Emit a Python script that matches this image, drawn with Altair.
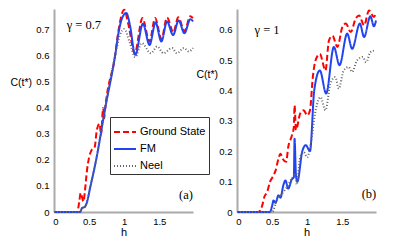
import altair as alt
import pandas as pd

SERIES = ["Ground State", "FM", "Neel"]
COLORS = ["#ff0000", "#2244f0", "#666666"]
DASHES = [[6, 3], [1, 0], [1, 2]]
WIDTHS = [2, 2, 1]

X_TICKS = [0.02, 0.5, 1, 1.5]
Y_TICKS_A = [0, 0.1, 0.2, 0.3, 0.4, 0.5, 0.6, 0.7]
Y_TICKS_B = [0, 0.1, 0.2, 0.3, 0.4, 0.5, 0.6]

# ---------------- panel (a): gamma = 0.7 ----------------
a_gs_h = [0, 0.33, 0.36, 0.38, 0.42, 0.44, 0.47, 0.50, 0.53, 0.58, 0.61, 0.65, 0.67, 0.70, 0.715, 0.73,
          0.87, 0.92, 1.0, 1.06, 1.15, 1.26, 1.36, 1.44, 1.53, 1.61, 1.70, 1.77, 1.86, 1.94, 1.98]
a_gs_c = [0, 0, 0.04, 0.073, 0.04, 0.08, 0.16, 0.21, 0.235, 0.25, 0.315, 0.34, 0.296, 0.40, 0.36, 0.40,
          0.6, 0.70, 0.777, 0.72, 0.61, 0.745, 0.655, 0.745, 0.665, 0.747, 0.69, 0.748, 0.695, 0.752, 0.745]

a_fm_h = [0, 0.37, 0.40, 0.44, 0.46, 0.52, 0.60, 0.73, 0.87, 0.92, 0.97, 1.03, 1.08, 1.157, 1.267,
          1.361, 1.447, 1.529, 1.61, 1.696, 1.776, 1.857, 1.943, 1.98]
a_fm_c = [0, 0, 0.015, 0.02, 0.03, 0.1, 0.2, 0.4, 0.6, 0.69, 0.745, 0.765, 0.72, 0.604, 0.723,
          0.642, 0.728, 0.655, 0.732, 0.68, 0.736, 0.687, 0.741, 0.732]

a_ne_h = [0, 0.37, 0.40, 0.44, 0.46, 0.52, 0.60, 0.73, 0.87, 0.94, 1.0, 1.08, 1.157, 1.25, 1.38,
          1.47, 1.56, 1.68, 1.75, 1.85, 1.92, 1.98]
a_ne_c = [0, 0, 0.015, 0.02, 0.03, 0.1, 0.2, 0.4, 0.6, 0.68, 0.703, 0.65, 0.595, 0.649, 0.61,
          0.636, 0.61, 0.63, 0.61, 0.63, 0.617, 0.63]

# ---------------- panel (b): gamma = 1 ----------------
b_gs_h = [0, 0.30, 0.36, 0.39, 0.43, 0.47, 0.52, 0.55, 0.59, 0.62, 0.65, 0.70, 0.73, 0.78, 0.81, 0.82,
          0.84, 0.90, 0.95, 1.0, 1.04, 1.08, 1.12, 1.18, 1.26, 1.31, 1.36, 1.43, 1.50, 1.55, 1.62,
          1.69, 1.74, 1.81, 1.88, 1.95, 1.98]
b_gs_c = [0, 0, 0.022, 0.05, 0.066, 0.099, 0.12, 0.137, 0.175, 0.192, 0.175, 0.165, 0.214, 0.25, 0.28, 0.351,
          0.27, 0.324, 0.335, 0.318, 0.335, 0.444, 0.5, 0.52, 0.466, 0.565, 0.58, 0.543, 0.608, 0.62, 0.592,
          0.636, 0.647, 0.614, 0.663, 0.642, 0.655]

b_fm_h = [0, 0.47, 0.50, 0.52, 0.55, 0.59, 0.62, 0.66, 0.69, 0.73, 0.78, 0.81, 0.82, 0.84, 0.86,
          0.93, 0.98, 1.04, 1.10, 1.18, 1.27, 1.38, 1.46, 1.57, 1.64, 1.75, 1.81, 1.90, 1.95, 1.98]
b_fm_c = [0, 0, 0.02, 0.038, 0.03, 0.055, 0.047, 0.088, 0.104, 0.077, 0.107, 0.115, 0.241, 0.12, 0.1,
          0.2, 0.22, 0.2, 0.40, 0.466, 0.39, 0.543, 0.483, 0.587, 0.537, 0.62, 0.576, 0.644, 0.611, 0.63]

b_ne_h = [0, 0.50, 0.57, 0.64, 0.71, 0.78, 0.83, 0.85, 0.90, 0.95, 1.0, 1.05, 1.12, 1.19, 1.26,
          1.33, 1.40, 1.45, 1.52, 1.59, 1.64, 1.71, 1.79, 1.84, 1.90, 1.97]
b_ne_c = [0, 0, 0.04, 0.06, 0.082, 0.11, 0.126, 0.09, 0.18, 0.197, 0.18, 0.225, 0.335, 0.378, 0.335,
          0.422, 0.444, 0.406, 0.466, 0.477, 0.461, 0.499, 0.51, 0.493, 0.526, 0.532]


def frame(pairs):
    rows = []
    for name, (hs, cs) in zip(SERIES, pairs):
        for h, c in zip(hs, cs):
            rows.append({"series": name, "h": h, "C": c})
    return pd.DataFrame(rows)


df_a = frame([(a_gs_h, a_gs_c), (a_fm_h, a_fm_c), (a_ne_h, a_ne_c)])
df_b = frame([(b_gs_h, b_gs_c), (b_fm_h, b_fm_c), (b_ne_h, b_ne_c)])

W, H = 139, 203


def panel(df, ymax, yticks, title_x, title_y, gtext, gpos, ltext, lpos, show_legend):
    if show_legend:
        leg = alt.Legend(orient="none", legendX=56, legendY=108, title=None,
                         symbolType="stroke", symbolSize=484, symbolStrokeWidth=2,
                         labelFont="Liberation Sans", labelFontSize=11, labelColor="black",
                         padding=3, rowPadding=-4, strokeColor="#333333", fillColor="white",
                         labelOffset=3, labelLimit=200)
    else:
        leg = None
    x = alt.X("h:Q", scale=alt.Scale(domain=[0, 1.98], nice=False, zero=False),
              axis=alt.Axis(values=X_TICKS, tickCount=20, title="h",
                            labelExpr="datum.value < 0.1 ? '0' : format(datum.value, '~g')",
                            labelAlign="center", labelSeparation=0,
                            titleBaseline="alphabetic", titleY=23, titleFontSize=11,
                            labelPadding=4, labelOverlap=False, labelFlush=False, labelBound=False))
    y = alt.Y("C:Q", scale=alt.Scale(domain=[0, ymax], nice=False),
              axis=alt.Axis(values=yticks, tickCount=20, format="~g", title="C(t*)", titleAngle=0,
                            titleAlign="left", titleBaseline="middle",
                            titleX=title_x, titleY=title_y, labelPadding=5,
                            labelOverlap=False, labelFlush=False, labelBound=False))
    lines = alt.Chart(df).mark_line(interpolate="monotone").encode(
        x=x, y=y,
        color=alt.Color("series:N", scale=alt.Scale(domain=SERIES, range=COLORS), legend=leg, title=None),
        strokeDash=alt.StrokeDash("series:N", scale=alt.Scale(domain=SERIES, range=DASHES), legend=leg, title=None),
        strokeWidth=alt.StrokeWidth("series:N", scale=alt.Scale(domain=SERIES, range=WIDTHS), legend=None),
    )
    g = alt.Chart(pd.DataFrame({"t": [gtext]})).mark_text(
        font="Liberation Serif", fontSize=12.5, align="left", baseline="middle", color="black"
    ).encode(x=alt.datum(gpos[0]), y=alt.datum(gpos[1]), text="t:N")
    lab = alt.Chart(pd.DataFrame({"t": [ltext]})).mark_text(
        font="Liberation Serif", fontSize=12.5, align="center", baseline="middle", color="black"
    ).encode(x=alt.datum(lpos[0]), y=alt.datum(lpos[1]), text="t:N")
    return alt.layer(lines, g, lab).properties(width=W, height=H)


left = panel(df_a, 0.78, Y_TICKS_A, -44, 73, "γ = 0.7", (0.18, 0.72), "(a)", (1.88, 0.065), True)
right = panel(df_b, 0.668, Y_TICKS_B, -41, 65, "γ = 1", (0.25, 0.60), "(b)", (1.88, 0.06), False)

chart = alt.hconcat(left, right, spacing=44, bounds="flush").resolve_scale(
    color="independent", strokeDash="independent", strokeWidth="independent"
).configure_view(stroke=None).configure_axis(
    grid=False, ticks=False, tickSize=0,
    labelFont="Liberation Sans", labelFontSize=9.5, labelColor="black",
    titleFont="Liberation Sans", titleFontSize=10.5, titleFontWeight="normal", titleColor="black",
    domainColor="#aaaaaa", domainWidth=2,
).configure_axisX(labelOverlap=False, labelBound=False, labelFlush=False).properties(
    padding={"left": 2, "top": -3, "right": 2, "bottom": 2},
)

chart.save("out.html", embed_options={"renderer": "svg", "actions": False})
